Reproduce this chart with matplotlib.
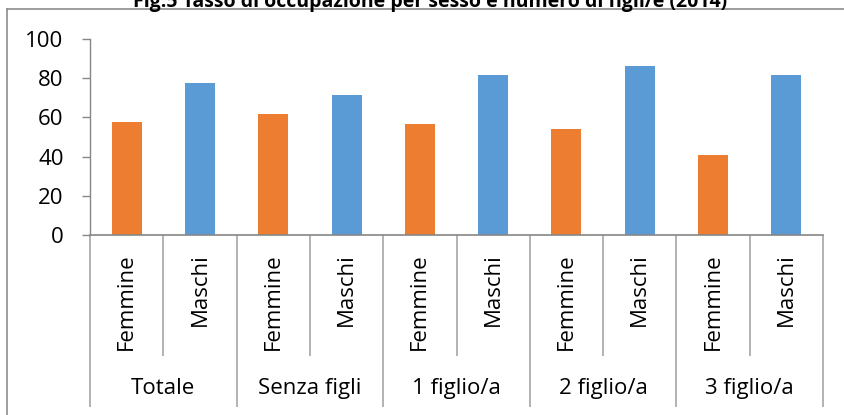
import numpy as np
import matplotlib
matplotlib.use("Agg")
import matplotlib.pyplot as plt
from matplotlib.lines import Line2D

plt.rcParams['font.family'] = ['Open Sans', 'DejaVu Sans']

title = "Fig.5 Tasso di occupazione per sesso e numero di figli/e (2014)"
groups = ["Totale", "Senza figli", "1 figlio/a", "2 figlio/a", "3 figlio/a"]
sexes = ["Femmine", "Maschi"]
femmine = [57.8, 61.9, 56.6, 54.1, 40.8]
maschi = [77.6, 71.4, 81.8, 86.4, 81.6]
yticks = [0, 20, 40, 60, 80, 100]

orange = '#ED7D31'
blue = '#5B9BD5'
grid_grey = '#a6a6a6'
axis_grey = '#868686'

W, H = 844, 415
fig = plt.figure(figsize=(W / 100, H / 100), dpi=100)

# axes placed in pixel terms: x from 90 to 823, y=0 at 235, y=100 at 39
left, right, y0, y100 = 90, 823, 235, 39
ax = fig.add_axes([left / W, (H - y0) / H, (right - left) / W, (y0 - y100) / H])

n = len(groups)
xf = np.arange(n) * 2
xm = xf + 1
ax.bar(xf, femmine, width=0.41, color=orange)
ax.bar(xm, maschi, width=0.41, color=blue)

ax.set_xlim(-0.5, 2 * n - 0.5)
ax.set_ylim(0, 100)
ax.set_yticks(yticks)
ax.tick_params(axis='y', length=6, width=1, color=axis_grey, pad=13, labelsize=16)
ax.set_xticks([])
for s in ['top', 'right']:
    ax.spines[s].set_visible(False)
ax.spines['left'].set_color(axis_grey)
ax.spines['bottom'].set_color(axis_grey)
ax.spines['left'].set_linewidth(1)
ax.spines['bottom'].set_linewidth(1.2)

# two-level category axis below the bars
ph = y0 - y100  # axes height in pixels
trans = ax.get_xaxis_transform()
inner = np.arange(n) * 2 + 0.5
outer = np.arange(n + 1) * 2 - 0.5
ax.vlines(inner, -121 / ph, 0, transform=trans, colors=grid_grey, lw=1.2, clip_on=False)
ax.vlines(outer, -172 / ph, 0, transform=trans, colors=grid_grey, lw=1.2, clip_on=False)

for i in range(n):
    for j, sex in enumerate(sexes):
        ax.text(2 * i + j, -18 / ph, sex, transform=trans, rotation=90,
                ha='center', va='top', fontsize=16)
    ax.text(2 * i + 0.5, -(388 - y0) / ph, groups[i], transform=trans,
            ha='center', va='center', fontsize=16)

# chart frame and title
fig.add_artist(Line2D([7 / W, 1], [1 - 9.5 / H, 1 - 9.5 / H], color='#8c8c8c', lw=1.2))
fig.add_artist(Line2D([7 / W, 7 / W], [0, 1 - 9.5 / H], color='#8c8c8c', lw=1.2))
fig.text(430 / W, 1 - 6.5 / H, title, ha='center', va='baseline',
         fontsize=14, fontweight='bold')

fig.savefig('out.png', dpi=100)
